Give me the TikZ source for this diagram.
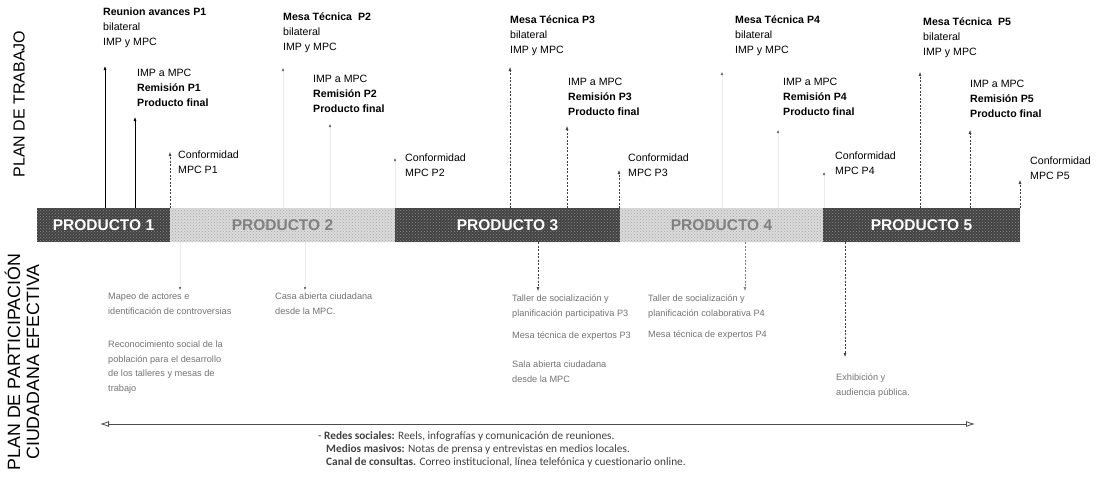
\documentclass[tikz,border=0pt]{standalone}
\usepackage{fontspec}
\setmainfont{Liberation Sans}
\newfontfamily\calfont{Carlito}
\usetikzlibrary{arrows.meta,patterns}
\begin{document}
\begin{tikzpicture}[x=1pt,y=-1pt,
  solidarr/.style={-{Latex[length=4pt,width=3pt]}, line width=0.6pt, black},
  dasharr/.style={-{Latex[length=4pt,width=3pt]}, line width=0.5pt, black!75, dash pattern=on 2pt off 1.5pt},
  faintarr/.style={-{Latex[length=3pt,width=2.5pt,color=black!60]}, line width=0.4pt, draw=black!8},
  toplab/.style={anchor=north west, inner sep=0pt, align=left, font=\fontsize{10.6}{14.8}\selectfont},
  lowlab/.style={anchor=north west, inner sep=0pt, align=left, text=black!55, font=\fontsize{9.2}{14.5}\selectfont},
  seg/.style={anchor=north west, minimum height=34pt, inner sep=0pt, outer sep=0pt, font=\bfseries\fontsize{15.5}{15.5}\selectfont},
  darkseg/.style={seg, fill=black!74, text=white, postaction={pattern=crosshatch dots, pattern color=black!45}},
  lightseg/.style={seg, fill=black!14, text=black!50, postaction={pattern=crosshatch dots, pattern color=black!35}},
  sidetitle/.style={rotate=90, align=center, inner sep=0pt},
]
\useasboundingbox (0,0) rectangle (1102,479);

% side titles
\node[sidetitle, font=\fontsize{16}{18}\selectfont] (tplan) at (19,104) {PLAN DE TRABAJO};
\node[sidetitle, font=\fontsize{17.8}{19}\selectfont] (tpart) at (22,362) {PLAN DE PARTICIPACIÓN\\CIUDADANA EFECTIVA};

% product bar
\node[darkseg,  minimum width=133pt] (p1) at (37,208)  {PRODUCTO 1};
\node[lightseg, minimum width=225pt] (p2) at (170,208) {PRODUCTO 2};
\node[darkseg,  minimum width=225pt] (p3) at (395,208) {PRODUCTO 3};
\node[lightseg, minimum width=203pt] (p4) at (620,208) {PRODUCTO 4};
\node[darkseg,  minimum width=197pt] (p5) at (823,208) {PRODUCTO 5};

% top labels
\node[toplab] (t1) at (103,8) {\textbf{Reunion avances P1}\\bilateral\\IMP y MPC};
\node[toplab] (t2) at (283,13) {\textbf{Mesa Técnica\ \ P2}\\bilateral\\IMP y MPC};
\node[toplab] (t3) at (510,16) {\textbf{Mesa Técnica P3}\\bilateral\\IMP y MPC};
\node[toplab] (t4) at (735,16) {\textbf{Mesa Técnica P4}\\bilateral\\IMP y MPC};
\node[toplab] (t5) at (923,18) {\textbf{Mesa Técnica\ \ P5}\\bilateral\\IMP y MPC};

\node[toplab] (m1) at (137,69) {IMP a MPC\\\textbf{Remisión P1}\\\textbf{Producto final}};
\node[toplab] (m2) at (313,75) {IMP a MPC\\\textbf{Remisión P2}\\\textbf{Producto final}};
\node[toplab] (m3) at (568,78) {IMP a MPC\\\textbf{Remisión P3}\\\textbf{Producto final}};
\node[toplab] (m4) at (783,78) {IMP a MPC\\\textbf{Remisión P4}\\\textbf{Producto final}};
\node[toplab] (m5) at (970,80) {IMP a MPC\\\textbf{Remisión P5}\\\textbf{Producto final}};

\node[toplab] (c1) at (178,151) {Conformidad\\MPC P1};
\node[toplab] (c2) at (405,154) {Conformidad\\MPC P2};
\node[toplab] (c3) at (628,154) {Conformidad\\MPC P3};
\node[toplab] (c4) at (835,152) {Conformidad\\MPC P4};
\node[toplab] (c5) at (1030,157) {Conformidad\\MPC P5};

% upward arrow tips
\coordinate (u1a) at (105,66);  \coordinate (u1b) at (135,117); \coordinate (u1c) at (170,152);
\coordinate (u2a) at (283,68);  \coordinate (u2b) at (330,124); \coordinate (u2c) at (395,158);
\coordinate (u3a) at (510,67);  \coordinate (u3b) at (567,126); \coordinate (u3c) at (619,170);
\coordinate (u4a) at (722,72);  \coordinate (u4b) at (778,130); \coordinate (u4c) at (824,172);
\coordinate (u5a) at (920,72);  \coordinate (u5b) at (970,130); \coordinate (u5c) at (1020,180);

\draw[solidarr] (p1.north -| u1a) -- (u1a);
\draw[solidarr] (p1.north -| u1b) -- (u1b);
\draw[dasharr]  (p1.north -| u1c) -- (u1c);
\draw[faintarr] (p2.north -| u2a) -- (u2a);
\draw[faintarr] (p2.north -| u2b) -- (u2b);
\draw[faintarr] (p2.north -| u2c) -- (u2c);
\draw[dasharr]  (p3.north -| u3a) -- (u3a);
\draw[dasharr]  (p3.north -| u3b) -- (u3b);
\draw[dasharr]  (p3.north -| u3c) -- (u3c);
\draw[faintarr] (p4.north -| u4a) -- (u4a);
\draw[faintarr] (p4.north -| u4b) -- (u4b);
\draw[faintarr] (p4.north -| u4c) -- (u4c);
\draw[dasharr]  (p5.north -| u5a) -- (u5a);
\draw[dasharr]  (p5.north -| u5b) -- (u5b);
\draw[dasharr]  (p5.north -| u5c) -- (u5c);

% lower labels
\node[lowlab] (l1) at (108,293) {Mapeo de actores e\\identificación de controversias};
\node[lowlab] (l2) at (108,341) {Reconocimiento social de la\\población para el desarrollo\\de los talleres y mesas de\\trabajo};
\node[lowlab] (l3) at (275,293) {Casa abierta ciudadana\\desde la MPC.};
\node[lowlab] (l4) at (512,295) {Taller de socialización y\\planificación participativa P3};
\node[lowlab] (l5) at (512,332) {Mesa técnica de expertos P3};
\node[lowlab] (l6) at (512,361) {Sala abierta ciudadana\\desde la MPC};
\node[lowlab] (l7) at (648,295) {Taller de socialización y\\planificación colaborativa P4};
\node[lowlab] (l8) at (648,331) {Mesa técnica de expertos P4};
\node[lowlab] (l9) at (836,374) {Exhibición y\\audiencia pública.};

% downward arrow tips
\coordinate (d1) at (180,290); \coordinate (d2) at (305,290); \coordinate (d3) at (538,291);
\coordinate (d4) at (745,291); \coordinate (d5) at (845,357);
\draw[faintarr] (p2.south -| d1) -- (d1);
\draw[faintarr] (p2.south -| d2) -- (d2);
\draw[dasharr]  (p3.south -| d3) -- (d3);
\draw[dasharr, black!50] (p4.south -| d4) -- (d4);
\draw[dasharr]  (p5.south -| d5) -- (d5);

% communication line
\coordinate (hl) at (100,424); \coordinate (hr) at (975,424);
\draw[{Latex[open,length=9pt,width=6pt]}-{Latex[open,length=9pt,width=6pt]}, line width=0.8pt, black!70] (hl) -- (hr);

\node[anchor=north west, inner sep=0pt, align=left, text=black!75,
      font=\calfont\fontsize{11.3}{13}\selectfont] (media) at (318,431)
  {- \textbf{Redes sociales:} Reels, infografías y comunicación de reuniones.\\
   \hspace*{8pt}\textbf{Medios masivos:} Notas de prensa y entrevistas en medios locales.\\
   \hspace*{8pt}\textbf{Canal de consultas.} Correo institucional, línea telefónica y cuestionario online.};
\end{tikzpicture}
\end{document}
